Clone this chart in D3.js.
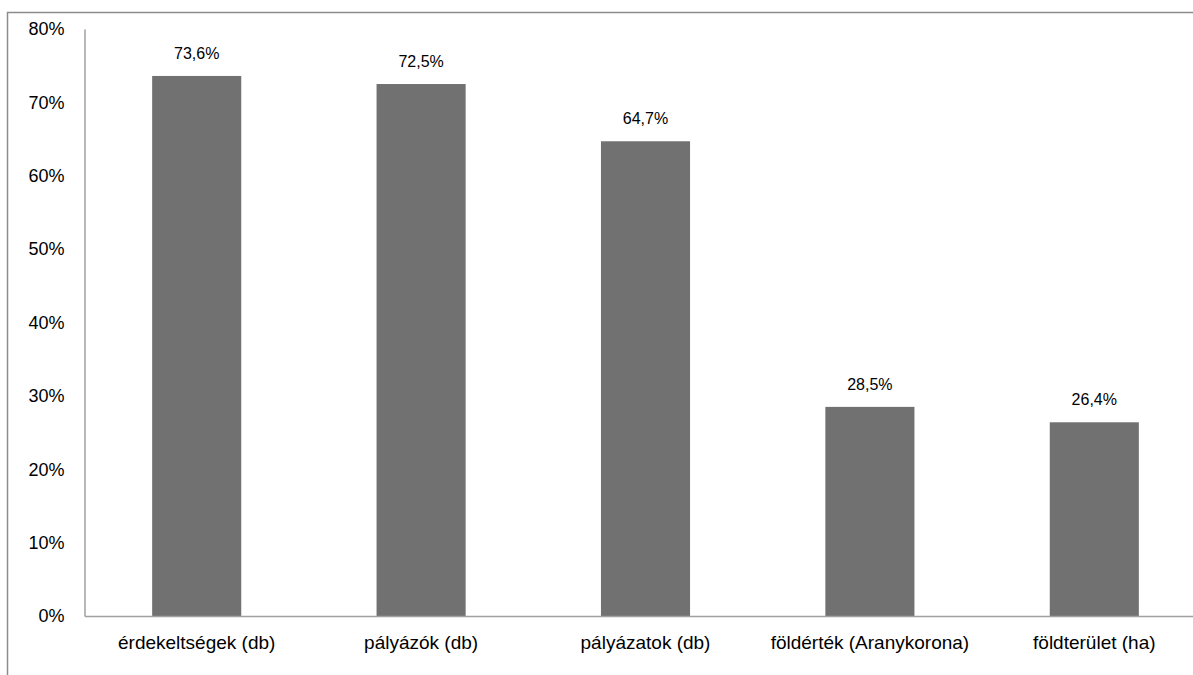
<!DOCTYPE html>
<html><head><meta charset="utf-8">
<script src="https://cdn.jsdelivr.net/npm/d3@7"></script>
<style>body{margin:0;background:#fff;}svg{display:block;}</style>
</head><body><svg id="c" width="1193" height="675"></svg>
<script>
const categories = ["érdekeltségek (db)", "pályázók (db)", "pályázatok (db)", "földérték (Aranykorona)", "földterület (ha)"];
const values = [73.6, 72.5, 64.7, 28.5, 26.4];
const yTicks = [0, 10, 20, 30, 40, 50, 60, 70, 80];

const svg = d3.select("#c");
const font = "'Liberation Sans', Arial, sans-serif";
// outer frame
svg.append("rect").attr("x", 7.5).attr("y", 12.5).attr("width", 1300).attr("height", 800)
  .attr("fill", "none").attr("stroke", "#8c8c8c").attr("stroke-width", 1.5);

const x = d3.scaleBand().domain(categories).range([84.5, 1206.5]).paddingInner(0.603).paddingOuter(0.3015);
const y = d3.scaleLinear().domain([0, 80]).range([616, 29]);

const g = svg.append("g");
g.selectAll("rect.bar").data(values).join("rect").attr("class", "bar")
  .attr("x", (d, i) => x(categories[i])).attr("width", x.bandwidth())
  .attr("y", d => y(d)).attr("height", d => y(0) - y(d)).attr("fill", "#717171");

// y axis
const ya = g.append("g").attr("transform", "translate(84.5,0)")
  .call(d3.axisLeft(y).tickValues(yTicks).tickSize(0).tickPadding(20).tickFormat(d => d + "%"));
ya.select(".domain").attr("stroke", "#a0a0a0").attr("stroke-width", 1.5);
ya.selectAll("text").attr("font-family", font).attr("font-size", 18).attr("fill", "#000");

// x axis
const xa = g.append("g").attr("transform", "translate(0,616)")
  .call(d3.axisBottom(x).tickSize(0).tickPadding(20));
xa.select(".domain").attr("stroke", "#a0a0a0").attr("stroke-width", 1.5);
xa.selectAll("text").attr("font-family", font).attr("font-size", 19).attr("fill", "#000");

// value labels
g.selectAll("text.lbl").data(values).join("text").attr("class", "lbl")
  .attr("x", (d, i) => x(categories[i]) + x.bandwidth() / 2).attr("y", d => y(d) - 17)
  .attr("text-anchor", "middle").attr("font-family", font).attr("font-size", 16).attr("fill", "#000")
  .text(d => d.toFixed(1).replace(".", ",") + "%");
</script></body></html>
